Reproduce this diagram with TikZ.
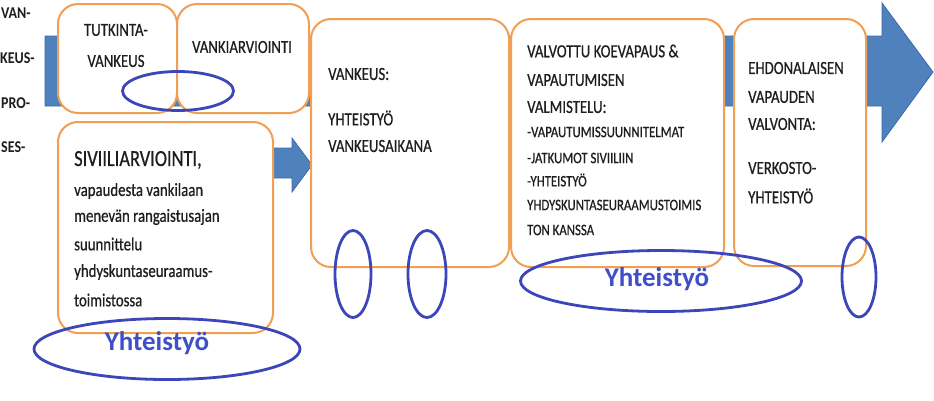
\documentclass[tikz,border=0pt]{standalone}
\usepackage{fontspec}
\setmainfont{Carlito}
\newfontfamily\narrowfont[FakeStretch=0.8,FakeBold=0.6]{Carlito}
\newfontfamily\sidefont[FakeStretch=0.85]{Carlito}
\usetikzlibrary{shapes.geometric}
\definecolor{arrowblue}{HTML}{4F81BD}
\definecolor{arrowedge}{HTML}{3C6AA8}
\definecolor{boxorange}{HTML}{F0A055}
\definecolor{ringblue}{HTML}{3D46B8}
\definecolor{labelblue}{HTML}{3F4FC9}
\definecolor{inktext}{HTML}{1E1E1E}
\begin{document}
\begin{tikzpicture}[x=1pt,y=-1pt,
  stagebox/.style={draw=boxorange, line width=2pt, fill=white, rounded corners=20pt, anchor=north west, inner sep=0pt},
  boxtext/.style={inner sep=0pt, anchor=west, text=inktext, font=\narrowfont\fontsize{18.5}{20}\selectfont},
  smalltext/.style={boxtext, font=\narrowfont\fontsize{16}{18}\selectfont},
  lowtext/.style={boxtext, font=\narrowfont\fontsize{18.5}{20}\selectfont},
  sidetext/.style={inner sep=0pt, anchor=west, text=inktext, font=\sidefont\bfseries\fontsize{16.5}{18}\selectfont},
  ring/.style={draw=ringblue, line width=2.8pt, ellipse, inner sep=0pt},
  ringlabel/.style={text=labelblue, font=\bfseries\fontsize{27}{30}\selectfont, inner sep=0pt}
]
\useasboundingbox (0,0) rectangle (934,400);
\fill[white] (0,0) rectangle (934,400);
% big process arrow
\draw[fill=arrowblue, draw=arrowedge, line width=0.8pt]
  (45,36) -- (882,36) -- (882,3) -- (933,72) -- (882,142) -- (882,106) -- (45,106) -- cycle;
% small arrow
\draw[fill=arrowblue, draw=arrowedge, line width=0.8pt]
  (262,148) -- (292,148) -- (292,138) -- (312,165) -- (292,192) -- (292,178) -- (262,178) -- cycle;
% side labels
\node[sidetext] (s1) at (1,13) {VAN-};
\node[sidetext] (s2) at (0,58) {KEUS-};
\node[sidetext] (s3) at (1,103) {PRO-};
\node[sidetext] (s4) at (1,147) {SES-};
% boxes
\node[stagebox, minimum width=119pt, minimum height=109pt] (b1) at (57,3) {};
\node[stagebox, minimum width=132pt, minimum height=109pt] (b2) at (176,3) {};
\node[stagebox, minimum width=215pt, minimum height=211pt] (b3) at (57,121) {};
\node[stagebox, minimum width=198pt, minimum height=248pt] (b4) at (310,18) {};
\node[stagebox, minimum width=213pt, minimum height=248pt] (b5) at (510,18) {};
\node[stagebox, minimum width=132pt, minimum height=247pt] (b6) at (733,18) {};
% box 1 and 2 texts
\node[boxtext, anchor=center] (b1a) at (116,30) {TUTKINTA-};
\node[boxtext, anchor=center] (b1b) at (116,61) {VANKEUS};
\node[boxtext, anchor=center] (b2a) at (242,47) {VANKIARVIOINTI};
% box 3
\node[boxtext, font=\narrowfont\fontsize{23}{25}\selectfont] (b3h) at (74,160) {SIVIILIARVIOINTI,};
\foreach \yy/\tt [count=\i] in {191/vapaudesta vankilaan, 217/menevän rangaistusajan, 244/suunnittelu, 272/yhdyskuntaseuraamus-, 300/toimistossa}
  \node[lowtext] (b3l\i) at (74,\yy) {\tt};
% box 4
\foreach \yy/\tt [count=\i] in {74/VANKEUS:, 118/YHTEISTYÖ, 146/VANKEUSAIKANA}
  \node[boxtext] (b4l\i) at (328,\yy) {\tt};
% box 5
\foreach \yy/\tt [count=\i] in {51/{VALVOTTU KOEVAPAUS \&}, 80/VAPAUTUMISEN, 107/VALMISTELU:}
  \node[boxtext] (b5h\i) at (527,\yy) {\tt};
\foreach \yy/\tt [count=\i] in {132/-VAPAUTUMISSUUNNITELMAT, 158/-JATKUMOT SIVIILIIN, 180/-YHTEISTYÖ, 205/YHDYSKUNTASEURAAMUSTOIMIS, 230/TON KANSSA}
  \node[smalltext] (b5l\i) at (527,\yy) {\tt};
% box 6
\foreach \yy/\tt [count=\i] in {68/EHDONALAISEN, 97/VAPAUDEN, 124/VALVONTA:, 168/VERKOSTO-, 196/YHTEISTYÖ}
  \node[boxtext] (b6l\i) at (748,\yy) {\tt};
% rings
\node[ring, minimum width=111pt, minimum height=39pt] (e1) at (178,91) {};
\node[ring, minimum width=266pt, minimum height=61pt] (e2) at (167,349) {};
\node[ring, minimum width=36pt, minimum height=87pt] (e3) at (353,274) {};
\node[ring, minimum width=38pt, minimum height=87pt] (e4) at (427,274) {};
\node[ring, minimum width=281pt, minimum height=61pt] (e5) at (661,281) {};
\node[ring, minimum width=34pt, minimum height=80pt] (e6) at (859,277) {};
\node[ringlabel] (y1) at (157,343) {Yhteistyö};
\node[ringlabel] (y2) at (657,279) {Yhteistyö};
\end{tikzpicture}
\end{document}
